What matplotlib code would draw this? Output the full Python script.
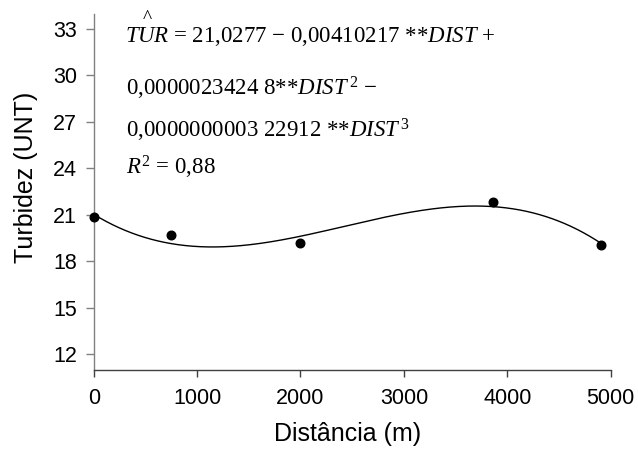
import numpy as np
import matplotlib
matplotlib.use("Agg")
import matplotlib.pyplot as plt

# Data
distancia = [0, 750, 2000, 3860, 4910]
turbidez = [20.85, 19.7, 19.15, 21.85, 19.05]

# Fitted cubic (coefficients printed on the chart)
coef = [21.0277, -0.00410217, 0.00000234248, -0.000000000322912]

xticks = [0, 1000, 2000, 3000, 4000, 5000]
yticks = [12, 15, 18, 21, 24, 27, 30, 33]

W, H = 638, 450
fig = plt.figure(figsize=(W / 100, H / 100), dpi=100)
ax = fig.add_axes([93.7 / W, 1 - 369.5 / H, (610.7 - 93.7) / W, (369.5 - 13.5) / H])

xs = np.linspace(0, distancia[-1], 400)
ys = coef[0] + coef[1] * xs + coef[2] * xs ** 2 + coef[3] * xs ** 3
ax.plot(xs, ys, color="black", lw=1.0, zorder=2)
ax.plot(distancia, turbidez, "o", color="black", ms=6.2, zorder=3, clip_on=False)

ax.set_xlim(0, 5000)
ax.set_ylim(11, 34)
ax.set_xticks(xticks)
ax.set_yticks(yticks)

for s in ["top", "right"]:
    ax.spines[s].set_visible(False)
ax.spines["left"].set_color("#808080")
ax.spines["bottom"].set_color("#404040")
ax.spines["left"].set_linewidth(1.0)
ax.spines["bottom"].set_linewidth(1.0)

sans = "Liberation Sans"
ax.tick_params(axis="x", direction="out", length=5, width=1, color="#404040", pad=8)
ax.tick_params(axis="y", direction="out", length=6, width=1, color="#808080", pad=6)
for lab in ax.get_xticklabels() + ax.get_yticklabels():
    lab.set_fontfamily(sans)
    lab.set_fontsize(15.5)

ax.set_xlabel("Distância (m)", fontsize=18, fontfamily=sans)
ax.xaxis.set_label_coords((348 - 93.7) / (610.7 - 93.7), -(434 - 369.5) / 356, transform=ax.transAxes)
ax.xaxis.label.set_verticalalignment("center")
ax.set_ylabel("Turbidez (UNT)", fontsize=18, fontfamily=sans)
ax.yaxis.set_label_coords(-(93.7 - 26) / (610.7 - 93.7), (369.5 - 177) / 356, transform=ax.transAxes)
ax.yaxis.label.set_verticalalignment("center")

plt.rcParams["mathtext.fontset"] = "custom"
plt.rcParams["mathtext.rm"] = "Liberation Serif"
plt.rcParams["mathtext.it"] = "Liberation Serif:italic"

serif = "Liberation Serif"
fs = 16.5

def ftext(px, py, s, size=fs):
    fig.text(px / W, 1 - py / H, s, fontfamily=serif, fontsize=size, va="baseline", ha="left")

ftext(143, 23, "^", size=14)
ftext(125, 42.3, r"$\it{TUR}$ = 21,0277 − 0,00410217 **$\it{DIST}$ +")
ftext(126, 95, r"0,0000023424 8**$\it{DIST}^{\,2}$ −")
ftext(126, 138, r"0,0000000003 22912 **$\it{DIST}^{\,3}$")
ftext(126, 174.3, r"$\it{R}^{2}$ = 0,88")

fig.savefig("out.png", dpi=100)
